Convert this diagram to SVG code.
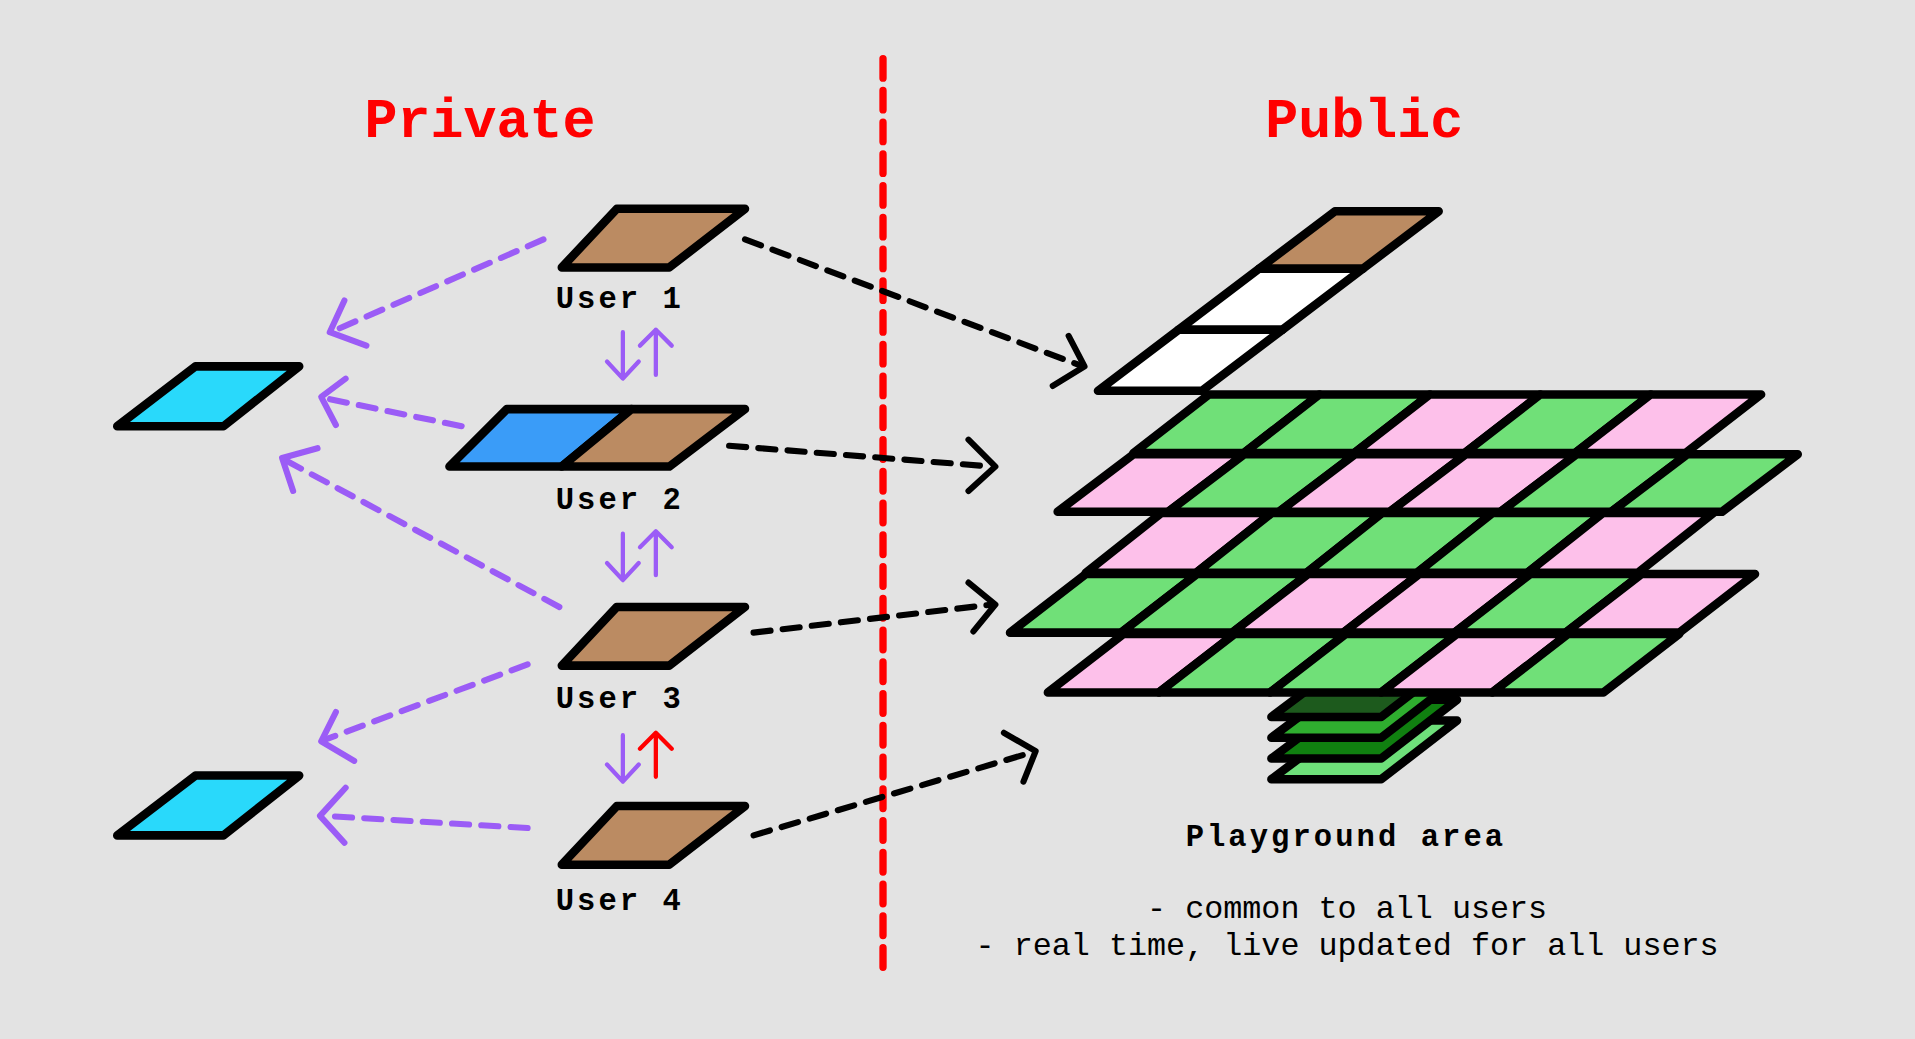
<svg xmlns="http://www.w3.org/2000/svg" width="1915" height="1039" viewBox="0 0 1915 1039">
<style>
.t{stroke:#000;stroke-width:7;stroke-linejoin:round}
.br{fill:#bb8b62}.cy{fill:#29d9fb}.bl{fill:#3a9cf8}.g{fill:#70e078}.p{fill:#fdc0ea}.w{fill:#fff}
.kd{fill:none;stroke:#000;stroke-width:5;stroke-dasharray:14 10;stroke-linecap:round}
.kh{fill:none;stroke:#000;stroke-width:5;stroke-linecap:round;stroke-linejoin:round}
.pd{fill:none;stroke:#9b5cf6;stroke-width:5;stroke-dasharray:14 10;stroke-linecap:round}
.ph{fill:none;stroke:#9b5cf6;stroke-width:5;stroke-linecap:round;stroke-linejoin:round}
.va{fill:none;stroke:#9b5cf6;stroke-width:3.5;stroke-linecap:round;stroke-linejoin:round}
.lbl{font-family:"Liberation Mono",monospace;font-weight:bold;font-size:25px;letter-spacing:2.5px;fill:#000}
.ttl{font-family:"Liberation Mono",monospace;font-weight:bold;font-size:45px;fill:#f00}
.nt{font-family:"Liberation Mono",monospace;font-size:26px;fill:#000}
</style>
<rect width="1915" height="1039" fill="#e3e3e3"/>
<g transform="scale(1.22131)">
<g id="divider"><line x1="723" y1="48" x2="723" y2="800" stroke="#f00" stroke-width="6" stroke-dasharray="16 10" stroke-linecap="round"/></g>
<g id="titles">
<text class="ttl" x="393" y="112" text-anchor="middle">Private</text>
<text class="ttl" x="1117" y="112" text-anchor="middle">Public</text>
</g>
<g id="user1"><polygon class="t br" points="505,171 610,171 548,219 460,219"/><text class="lbl" x="455" y="252">User 1</text></g>
<g id="user2"><polygon class="t bl" points="415,335 517,335 460,382 368,382"/><polygon class="t br" points="517,335 610,335 548,382 460,382"/><text class="lbl" x="455" y="417">User 2</text></g>
<g id="user3"><polygon class="t br" points="505,497 610,497 548,545 460,545"/><text class="lbl" x="455" y="580">User 3</text></g>
<g id="user4"><polygon class="t br" points="505,660 610,660 548,708 460,708"/><text class="lbl" x="455" y="745">User 4</text></g>
<g id="private1"><polygon class="t cy" points="160,300 245,300 183,349 96,349"/></g>
<g id="private2"><polygon class="t cy" points="160,635 245,635 183,684 96,684"/></g>
<g id="stack">
<polygon class="t" fill="#6ee07a" points="1105,590 1193,590 1131,638 1041,638"/>
<polygon class="t" fill="#108010" points="1105,573 1193,573 1131,621 1041,621"/>
<polygon class="t" fill="#2fae2f" points="1105,556 1193,556 1131,604 1041,604"/>
<polygon class="t" fill="#1d5a1d" points="1105,539 1193,539 1131,587 1041,587"/>
</g>
<g id="column">
<polygon class="t br" points="1093,173 1178,173 1116,220 1031,220"/>
<polygon class="t w" points="1031,220 1116,220 1050,270 965,270"/>
<polygon class="t w" points="965,270 1050,270 984,320 899,320"/>
</g>
<g id="grid">
<polygon class="t g" points="990,323 1080.4,323 1018.4,371 928,371"/>
<polygon class="t g" points="1080.4,323 1170.8,323 1108.8,371 1018.4,371"/>
<polygon class="t p" points="1170.8,323 1261.2,323 1199.2,371 1108.8,371"/>
<polygon class="t g" points="1261.2,323 1351.6,323 1289.6,371 1199.2,371"/>
<polygon class="t p" points="1351.6,323 1442,323 1380,371 1289.6,371"/>
<polygon class="t p" points="928,372 1018.7,372 956.7,419 866,419"/>
<polygon class="t g" points="1018.7,372 1109.4,372 1047.4,419 956.7,419"/>
<polygon class="t p" points="1109.4,372 1200.1,372 1138.1,419 1047.4,419"/>
<polygon class="t p" points="1200.1,372 1290.8,372 1228.8,419 1138.1,419"/>
<polygon class="t g" points="1290.8,372 1381.5,372 1319.5,419 1228.8,419"/>
<polygon class="t g" points="1381.5,372 1472,372 1410,419 1319.5,419"/>
<polygon class="t p" points="951,420 1041.4,420 979.4,469 889,469"/>
<polygon class="t g" points="1041.4,420 1131.8,420 1069.8,469 979.4,469"/>
<polygon class="t g" points="1131.8,420 1222.2,420 1160.2,469 1069.8,469"/>
<polygon class="t g" points="1222.2,420 1312.6,420 1250.6,469 1160.2,469"/>
<polygon class="t p" points="1312.6,420 1403,420 1341,469 1250.6,469"/>
<polygon class="t g" points="889,470 980,470 918,518 827,518"/>
<polygon class="t g" points="980,470 1071,470 1009,518 918,518"/>
<polygon class="t p" points="1071,470 1162,470 1100,518 1009,518"/>
<polygon class="t p" points="1162,470 1253,470 1191,518 1100,518"/>
<polygon class="t g" points="1253,470 1344,470 1282,518 1191,518"/>
<polygon class="t p" points="1344,470 1437,470 1375,518 1282,518"/>
<polygon class="t p" points="920,519 1011,519 949,567 858,567"/>
<polygon class="t g" points="1011,519 1102,519 1040,567 949,567"/>
<polygon class="t g" points="1102,519 1193,519 1131,567 1040,567"/>
<polygon class="t p" points="1193,519 1284,519 1222,567 1131,567"/>
<polygon class="t g" points="1284,519 1375,519 1313,567 1222,567"/>
</g>
<g id="connectors">
<path class="kd" d="M610,196 L884,299"/><polyline class="kh" points="875,275 888,300 862,316"/>
<path class="kd" d="M597,365 L812,382"/><polyline class="kh" points="793,360 815,382 793,402"/>
<path class="kd" d="M617,518 L812,495"/><polyline class="kh" points="793,477 815,495 797,517"/>
<path class="kd" d="M617,684 L845,616"/><polyline class="kh" points="822,600 848,615 838,640"/>
<path class="pd" d="M445,196 L273,271"/><polyline class="ph" points="282,246 270,272 300,283"/>
<path class="pd" d="M378,349 L266,326"/><polyline class="ph" points="283,310 263,325 275,348"/>
<path class="pd" d="M458,497 L234,377"/><polyline class="ph" points="260,367 231,375 240,402"/>
<path class="pd" d="M432,544 L265,606"/><polyline class="ph" points="275,583 263,607 290,623"/>
<path class="pd" d="M432,678 L266,668"/><polyline class="ph" points="283,645 262,668 282,690"/>
<path class="va" d="M510,272 V310 M497,296 L510,310 L523,296"/>
<path class="va" d="M537,307 V270 M524,283 L537,270 L550,283"/>
<path class="va" d="M510,437 V475 M497,461 L510,475 L523,461"/>
<path class="va" d="M537,471 V435 M524,448 L537,435 L550,448"/>
<path class="va" d="M510,602 V640 M497,626 L510,640 L523,626"/>
<path class="va" style="stroke:#f00" d="M537,636 V600 M524,613 L537,600 L550,613"/>
</g>
<g id="notes">
<text class="lbl" x="1102" y="693" text-anchor="middle">Playground area</text>
<text class="nt" x="1103" y="752" text-anchor="middle">- common to all users</text>
<text class="nt" x="1103" y="782" text-anchor="middle">- real time, live updated for all users</text>
</g>
</g>
</svg>
